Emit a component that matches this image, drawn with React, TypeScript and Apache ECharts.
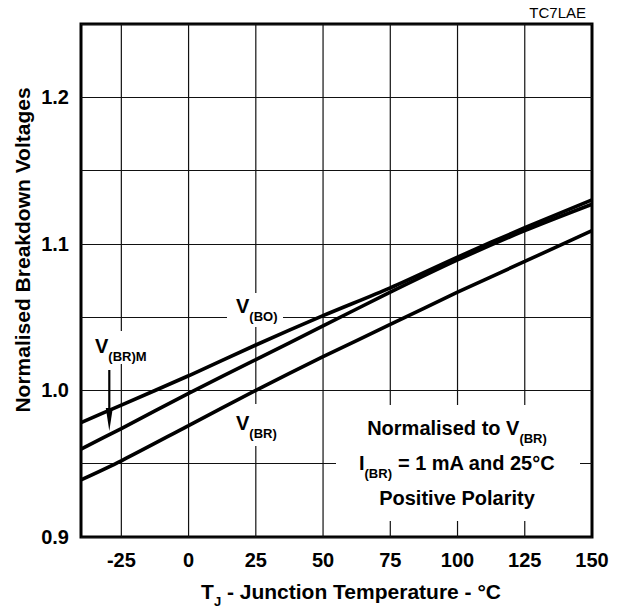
import React, { useEffect, useRef } from 'react';
import * as echarts from 'echarts';

// Junction temperature (°C) sample points
const temps = [-40, -25, 0, 25, 50, 75, 100, 125, 150];
// Normalised breakdown voltages
const vBO = [0.978, 0.990, 1.010, 1.031, 1.051, 1.070, 1.091, 1.111, 1.130];
const vBRM = [0.960, 0.974, 0.998, 1.021, 1.044, 1.067, 1.089, 1.109, 1.127];
const vBR = [0.939, 0.952, 0.976, 1.000, 1.023, 1.045, 1.067, 1.088, 1.109];
// Axis ticks
const xTickLabels = [-25, 0, 25, 50, 75, 100, 125, 150];
const xGridLines = [-25, 0, 25, 50, 75, 100, 125];
const yLabelValues = [0.9, 1.0, 1.1, 1.2];

const FONT = "'Liberation Sans', Arial, Helvetica, sans-serif";

function makeRich(size: number) {
  return {
    m: { fontSize: size, fontWeight: 'bold', fontFamily: FONT, fill: '#000', lineHeight: 20, verticalAlign: 'top' },
    s: { fontSize: 13, fontWeight: 'bold', fontFamily: FONT, fill: '#000', lineHeight: 27, verticalAlign: 'bottom' },
  };
}

function richText(x: number, y: number, text: string, align: string = 'left', size: number = 20) {
  return {
    type: 'text',
    x,
    y,
    z: 20,
    style: { text, rich: makeRich(size), align, verticalAlign: 'middle', fill: '#000', fontSize: size, fontWeight: 'bold', fontFamily: FONT },
  };
}

function whiteRect(x: number, y: number, width: number, height: number) {
  return { type: 'rect', z: 5, shape: { x, y, width, height }, style: { fill: '#fff' }, silent: true };
}

export default function App() {
  const ref = useRef<HTMLDivElement>(null);
  useEffect(() => {
    if (!ref.current) return;
    const chart = echarts.init(ref.current, undefined, { renderer: 'svg' });
    const curve = (vals: number[]) => ({
      type: 'line',
      data: temps.map((t, i) => [t, vals[i]]),
      smooth: 0.3,
      showSymbol: false,
      symbol: 'none',
      z: 10,
      lineStyle: { color: '#000', width: 3.6 },
      silent: true,
    });
    const gridSeries = xGridLines.map((x) => ({
      type: 'line',
      data: [[x, 0.9], [x, 1.25]],
      symbol: 'none',
      showSymbol: false,
      z: 1,
      lineStyle: { color: '#111', width: 1.2 },
      silent: true,
    }));
    chart.setOption({
      animation: false,
      backgroundColor: '#fff',
      grid: { left: 81, right: 27, top: 24, bottom: 72, show: true, borderColor: '#000', borderWidth: 3, backgroundColor: 'transparent' },
      xAxis: {
        type: 'value',
        min: -40,
        max: 150,
        axisLine: { show: false },
        axisTick: { show: false },
        splitLine: { show: false },
        axisLabel: {
          customValues: xTickLabels,
          margin: 13,
          color: '#000',
          fontSize: 20,
          fontWeight: 'bold',
          fontFamily: FONT,
        },
      },
      yAxis: {
        type: 'value',
        min: 0.9,
        max: 1.25,
        interval: 0.05,
        axisLine: { show: false },
        axisTick: { show: false },
        splitLine: { show: true, lineStyle: { color: '#111', width: 1.2 } },
        axisLabel: {
          margin: 12,
          color: '#000',
          fontSize: 20,
          fontWeight: 'bold',
          fontFamily: FONT,
          formatter: (v: number) => (yLabelValues.some((y) => Math.abs(y - v) < 1e-6) ? v.toFixed(1) : ''),
        },
      },
      series: [...gridSeries, curve(vBO), curve(vBRM), curve(vBR)],
      graphic: [
        whiteRect(227, 293, 56, 34),
        whiteRect(92, 331, 60, 33),
        whiteRect(227, 404, 56, 42),
        whiteRect(336, 405, 244, 116),
        richText(236, 309, '{m|V}{s|(BO)}'),
        richText(95, 349, '{m|V}{s|(BR)M}'),
        richText(236, 426, '{m|V}{s|(BR)}'),
        richText(457, 431.5, '{m|Normalised to V}{s|(BR)}', 'center'),
        richText(457, 466.5, '{m|I}{s|(BR)}{m| = 1 mA and 25°C}', 'center'),
        {
          type: 'text', x: 457, y: 498, z: 20,
          style: { text: 'Positive Polarity', align: 'center', verticalAlign: 'middle', fill: '#000', fontSize: 20, fontWeight: 'bold', fontFamily: FONT },
        },
        { type: 'line', z: 20, shape: { x1: 109.3, y1: 370, x2: 109.3, y2: 414 }, style: { stroke: '#000', lineWidth: 2.2 } },
        { type: 'polygon', z: 20, shape: { points: [[105.8, 408], [112.8, 408], [109.3, 431]] }, style: { fill: '#000' } },
        richText(351, 594.5, '{m|T}{s|J}{m| - Junction Temperature - °C}', 'center', 21),
        {
          type: 'text', x: 22, y: 250, z: 20, rotation: Math.PI / 2,
          style: { text: 'Normalised Breakdown Voltages', align: 'center', verticalAlign: 'middle', fill: '#000', fontSize: 21, fontWeight: 'bold', fontFamily: FONT },
        },
        {
          type: 'text', x: 586, y: 12, z: 20,
          style: { text: 'TC7LAE', align: 'right', verticalAlign: 'middle', fill: '#000', fontSize: 15, fontFamily: FONT },
        },
      ],
    });
    return () => chart.dispose();
  }, []);
  return <div ref={ref} style={{ position: 'absolute', left: 0, top: 0, width: 619, height: 609, background: '#fff' }} />;
}
